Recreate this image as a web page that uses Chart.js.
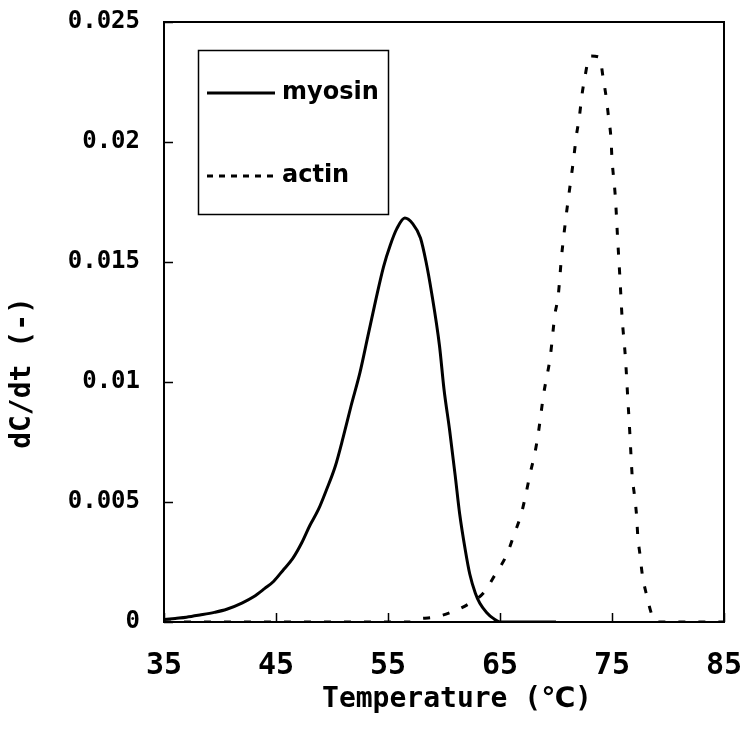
<!DOCTYPE html>
<html>
<head>
<meta charset="utf-8">
<script src="https://cdn.jsdelivr.net/npm/chart.js@4.4.0/dist/chart.umd.min.js"></script>
<style>
  body { margin: 0; background: #fff; }
  #wrap { width: 743px; height: 733px; }
</style>
</head>
<body>
<div id="wrap"><canvas id="dsc" width="743" height="733"></canvas></div>
<script>
// temperature (C) / dC/dt values
const myosinT = [35.0, 36.0, 37.0, 38.2, 39.5, 40.6, 42.0, 43.0, 44.0, 44.8, 45.7, 46.5, 47.3, 48.0, 48.8, 49.5,
  50.3, 51.0, 51.7, 52.5, 53.2, 53.9, 54.6, 55.2, 55.8, 56.5, 57.2, 57.9, 58.4, 58.9, 59.6, 60.0,
  60.5, 61.0, 61.4, 61.9, 62.3, 62.8, 63.2, 63.8, 64.4, 65.0, 70.0];
const myosinY = [0.0001, 0.00015, 0.0002, 0.00029, 0.0004, 0.00053, 0.0008, 0.00105, 0.0014, 0.0017, 0.0022, 0.00265, 0.0033, 0.0040, 0.0047, 0.0055,
  0.0065, 0.0077, 0.0090, 0.0104, 0.0119, 0.0134, 0.0148, 0.0157, 0.0164, 0.01683, 0.0166, 0.0160, 0.0150, 0.0137, 0.0115, 0.0097,
  0.0080, 0.0061, 0.0045, 0.0030, 0.0020, 0.0012, 0.00078, 0.0004, 0.00015, 0, 0];

const actinT = [35.0, 57.0, 57.3, 58.9, 60.5, 62.3, 63.5, 64.6, 65.6, 66.3, 66.9, 67.3, 67.7, 68.1, 68.4, 68.9,
  69.5, 69.9, 70.2, 70.5, 70.9, 71.6, 71.8, 72.1, 72.3, 72.6, 73.0, 73.9, 74.2, 74.5, 74.7, 74.9,
  75.0, 75.3, 75.5, 75.7, 75.9, 76.2, 76.4, 76.6, 76.7, 76.8, 77.0, 77.2, 77.3, 77.5, 77.7, 78.1,
  78.6, 79.0, 85.0];
const actinY = [0, 0, 0.0001, 0.00018, 0.00038, 0.00078, 0.0012, 0.0020, 0.0028, 0.0037, 0.0045, 0.0053, 0.0062, 0.0070, 0.0078, 0.0095,
  0.0111, 0.0128, 0.0136, 0.01525, 0.0169, 0.0194, 0.0202, 0.0211, 0.0219, 0.02275, 0.02358, 0.02353, 0.0227, 0.0218, 0.0210, 0.0202,
  0.0193, 0.0177, 0.0160, 0.0144, 0.0127, 0.0110, 0.0094, 0.0078, 0.0069, 0.0061, 0.0053, 0.0044, 0.0036, 0.0028, 0.0020, 0.0011,
  0.00025, 0, 0];

const xTickLabels = ['35', '45', '55', '65', '75', '85'];
const yTickLabels = ['0', '0.005', '0.01', '0.015', '0.02', '0.025'];
const seriesNames = ['myosin', 'actin'];

const MONO = '"DejaVu Sans Mono", "DejaVu Sans", monospace';
const SANS = '"DejaVu Sans", sans-serif';

function pts(xs, ys) {
  return xs.map((x, i) => ({ x: x, y: ys[i] }));
}

// no extra room for the end labels, the plot box is fixed
function noPad(s) {
  s.paddingTop = 0;
  s.paddingBottom = 0;
  s.paddingLeft = 0;
  s.paddingRight = 0;
}

// box round the plot, inward tick marks, axis titles and the boxed legend
const extras = {
  id: 'extras',
  afterDraw(chart) {
    const ctx = chart.ctx;
    const a = chart.chartArea;
    const xs = chart.scales.x, ys = chart.scales.y;
    ctx.save();
    ctx.strokeStyle = '#000';
    ctx.lineWidth = 2;
    ctx.strokeRect(a.left, a.top, a.right - a.left, a.bottom - a.top);

    ctx.lineWidth = 1.5;
    ctx.beginPath();
    xs.ticks.forEach(t => {
      const px = Math.round(xs.getPixelForValue(t.value)) + 0.5;
      ctx.moveTo(px, a.bottom);
      ctx.lineTo(px, a.bottom - 9);
    });
    ys.ticks.forEach(t => {
      const py = Math.round(ys.getPixelForValue(t.value)) + 0.5;
      ctx.moveTo(a.left, py);
      ctx.lineTo(a.left + 9, py);
    });
    ctx.stroke();

    ctx.fillStyle = '#000';
    ctx.font = 'bold 28px ' + MONO;
    ctx.textAlign = 'center';
    ctx.textBaseline = 'middle';
    ctx.fillText('Temperature (℃)', 457, 700);
    ctx.save();
    ctx.translate(23, 373);
    ctx.rotate(-Math.PI / 2);
    ctx.fillText('dC/dt (-)', 0, 0);
    ctx.restore();

    // legend
    ctx.lineWidth = 1.5;
    ctx.strokeRect(198.5, 50.5, 190, 164);
    const ds = chart.data.datasets;
    const rows = [93, 176];
    ds.forEach((d, i) => {
      ctx.beginPath();
      ctx.lineWidth = 3;
      ctx.setLineDash(d.borderDash && d.borderDash.length ? [6, 6] : []);
      ctx.moveTo(207, rows[i]);
      ctx.lineTo(275, rows[i]);
      ctx.stroke();
    });
    ctx.setLineDash([]);
    ctx.font = 'bold 24px ' + SANS;
    ctx.textAlign = 'left';
    ds.forEach((d, i) => ctx.fillText(d.label, 282, rows[i]));
    ctx.restore();
  }
};

new Chart(document.getElementById('dsc'), {
  type: 'line',
  data: {
    datasets: [
      {
        label: seriesNames[0],
        data: pts(myosinT, myosinY),
        borderColor: '#000',
        borderWidth: 3,
        pointRadius: 0,
        cubicInterpolationMode: 'monotone',
        fill: false
      },
      {
        label: seriesNames[1],
        data: pts(actinT, actinY),
        borderColor: '#000',
        borderWidth: 3,
        borderDash: [7, 13],
        pointRadius: 0,
        cubicInterpolationMode: 'monotone',
        fill: false
      }
    ]
  },
  options: {
    responsive: false,
    animation: false,
    devicePixelRatio: 1,
    layout: { padding: { top: 22, right: 19, left: 0, bottom: 0 } },
    plugins: { legend: { display: false }, tooltip: { enabled: false } },
    scales: {
      x: {
        type: 'linear',
        min: 35,
        max: 85,
        afterFit: s => { s.height = 111; noPad(s); },
        grid: { display: false, drawTicks: false },
        border: { display: false },
        ticks: {
          stepSize: 10,
          padding: 26,
          color: '#000',
          maxRotation: 0,
          font: { family: MONO, size: 30, weight: 'bold' },
          callback: (v, i) => xTickLabels[i]
        }
      },
      y: {
        type: 'linear',
        min: 0,
        max: 0.025,
        afterFit: s => { s.width = 164; noPad(s); },
        grid: { display: false, drawTicks: false },
        border: { display: false },
        ticks: {
          stepSize: 0.005,
          padding: 24,
          color: '#000',
          font: { family: MONO, size: 24, weight: 'bold' },
          callback: (v, i) => yTickLabels[i]
        }
      }
    }
  },
  plugins: [extras]
});
</script>
</body>
</html>
